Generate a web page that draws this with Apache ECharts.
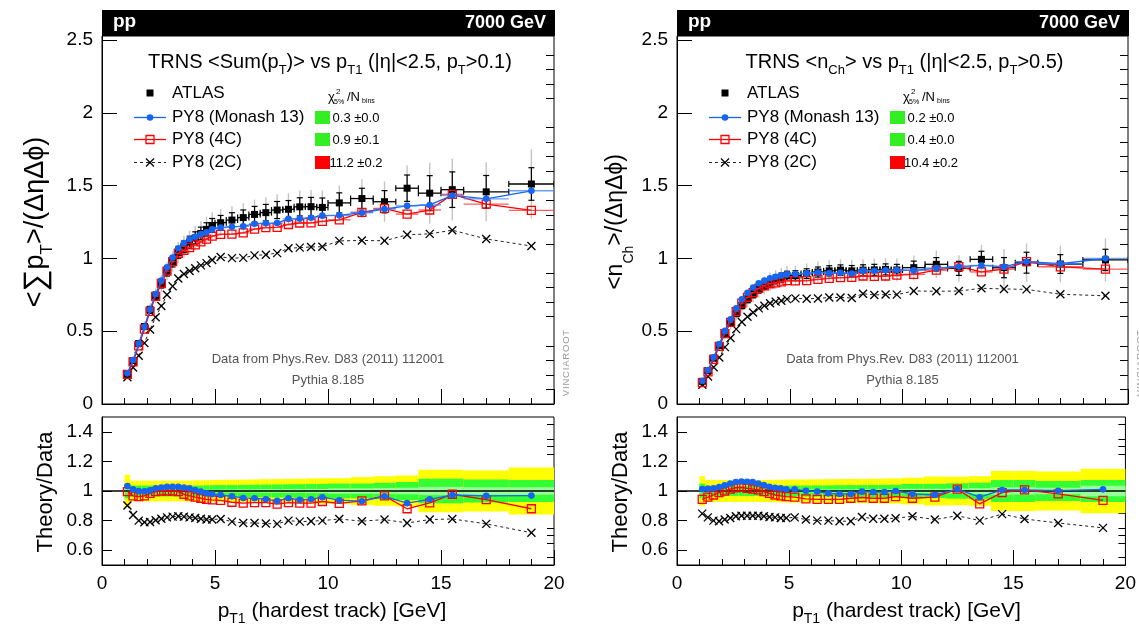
<!DOCTYPE html>
<html><head><meta charset="utf-8">
<script src="https://cdn.jsdelivr.net/npm/echarts@6/dist/echarts.min.js"></script>
<style>html,body{margin:0;padding:0;background:#fff}#c{width:1139px;height:634px}</style>
</head><body><div id="c"></div>
<script>
// ---------------- DATA ----------------
const binEdges = [1,1.25,1.5,1.75,2,2.25,2.5,2.75,3,3.25,3.5,3.75,4,4.25,4.5,4.75,5,5.5,6,6.5,7,7.5,8,8.5,9,9.5,10,11,12,13,14,15,16,18,20];

// Left: TRNS <Sum(pT)>
const sumPtData = [0.204,0.299,0.415,0.532,0.647,0.743,0.828,0.913,0.978,1.04,1.08,1.112,1.141,1.172,1.2,1.227,1.246,1.264,1.281,1.303,1.315,1.333,1.338,1.355,1.356,1.351,1.382,1.412,1.39,1.483,1.449,1.473,1.458,1.512];
const sumPtMonashRatio = [1.033,1.011,1.0,0.998,1.004,1.018,1.024,1.029,1.029,1.029,1.024,1.018,1.007,0.996,0.984,0.978,0.973,0.964,0.953,0.951,0.944,0.933,0.951,0.94,0.944,0.958,0.938,0.931,0.964,0.918,0.944,0.973,0.967,0.969];
const sumPt4CRatio = [0.996,0.967,0.962,0.967,0.984,0.996,1.0,1.0,1.0,0.996,0.978,0.967,0.958,0.951,0.944,0.94,0.936,0.924,0.918,0.922,0.922,0.911,0.922,0.918,0.918,0.929,0.916,0.933,0.967,0.88,0.92,0.978,0.942,0.88];
const sumPt2CRatio = [0.902,0.838,0.8,0.789,0.791,0.802,0.813,0.822,0.827,0.829,0.827,0.822,0.818,0.813,0.807,0.807,0.811,0.793,0.784,0.784,0.78,0.778,0.8,0.793,0.796,0.8,0.811,0.796,0.807,0.784,0.807,0.811,0.778,0.718];
const sumPtBandOuter = [0.11,0.07,0.07,0.07,0.07,0.07,0.07,0.07,0.07,0.07,0.07,0.071,0.072,0.072,0.073,0.074,0.075,0.076,0.077,0.078,0.08,0.081,0.082,0.083,0.085,0.086,0.087,0.094,0.1,0.105,0.144,0.144,0.139,0.158];
const sumPtBandMid = [0.05,0.037,0.037,0.037,0.037,0.037,0.037,0.037,0.037,0.037,0.037,0.037,0.037,0.037,0.038,0.039,0.04,0.04,0.041,0.042,0.043,0.044,0.045,0.046,0.047,0.048,0.05,0.05,0.055,0.061,0.083,0.083,0.077,0.074];
const sumPtBandInner = [0.012,0.008,0.008,0.008,0.008,0.008,0.008,0.008,0.008,0.008,0.008,0.008,0.008,0.009,0.009,0.009,0.01,0.01,0.011,0.011,0.012,0.012,0.013,0.013,0.014,0.014,0.018,0.018,0.02,0.022,0.028,0.028,0.026,0.025];
const sumPtChi2 = ['0.3 ±0.0','0.9 ±0.1','11.2 ±0.2'];

// Right: TRNS <nCh>
const nchData = [0.156,0.23,0.315,0.401,0.484,0.554,0.621,0.677,0.72,0.755,0.789,0.815,0.84,0.856,0.868,0.881,0.883,0.896,0.907,0.915,0.92,0.915,0.92,0.922,0.925,0.921,0.937,0.96,0.932,0.994,0.937,0.971,0.962,0.99];
const nchMonashRatio = [1.013,1.016,1.018,1.027,1.038,1.051,1.06,1.064,1.062,1.06,1.051,1.04,1.029,1.022,1.018,1.011,1.011,1.002,0.996,0.984,0.98,0.98,0.996,0.993,0.993,1.0,0.98,0.973,1.013,0.958,1.007,1.007,1.002,1.011];
const nch4CRatio = [0.944,0.958,0.973,0.989,1.0,1.013,1.022,1.024,1.018,1.013,1.007,0.996,0.984,0.973,0.967,0.962,0.958,0.947,0.944,0.944,0.944,0.951,0.956,0.951,0.951,0.962,0.951,0.958,1.013,0.913,0.989,1.007,0.98,0.936];
const nch2CRatio = [0.847,0.822,0.8,0.796,0.807,0.818,0.829,0.833,0.833,0.833,0.833,0.829,0.824,0.822,0.818,0.818,0.822,0.807,0.8,0.8,0.796,0.796,0.824,0.813,0.813,0.816,0.829,0.807,0.833,0.8,0.844,0.811,0.784,0.751];
const nchBandOuter = [0.1,0.074,0.074,0.074,0.074,0.074,0.074,0.074,0.074,0.074,0.074,0.075,0.075,0.076,0.076,0.077,0.078,0.078,0.079,0.08,0.081,0.082,0.082,0.083,0.084,0.085,0.09,0.098,0.097,0.1,0.136,0.136,0.131,0.15];
const nchBandMid = [0.05,0.033,0.033,0.033,0.033,0.033,0.033,0.033,0.034,0.034,0.034,0.035,0.035,0.035,0.036,0.036,0.037,0.037,0.038,0.038,0.039,0.04,0.04,0.041,0.041,0.042,0.048,0.048,0.052,0.056,0.074,0.074,0.067,0.074];
const nchBandInner = [0.012,0.008,0.008,0.008,0.008,0.008,0.008,0.008,0.008,0.008,0.008,0.008,0.008,0.009,0.009,0.009,0.01,0.01,0.01,0.011,0.011,0.011,0.012,0.012,0.013,0.013,0.015,0.015,0.017,0.02,0.025,0.025,0.022,0.035];
const nchChi2 = ['0.2 ±0.0','0.4 ±0.0','10.4 ±0.2'];

// Axis ticks / labels
const xTickValues = [0,5,10,15,20];
const mainYTickValues = [0,0.5,1,1.5,2,2.5];
const mainYMinorValues = [0.1,0.2,0.3,0.4,0.6,0.7,0.8,0.9,1.1,1.2,1.3,1.4,1.6,1.7,1.8,1.9,2.1,2.2,2.3,2.4];
const ratioYTickValues = [0.6,0.8,1,1.2,1.4];
const ratioYMinorValues = [0.55,0.65,0.7,0.75,0.85,0.9,0.95,1.05,1.1,1.15,1.25,1.3,1.35,1.45];
const legendLabels = ['ATLAS','PY8 (Monash 13)','PY8 (4C)','PY8 (2C)'];

// ---------------- STYLE / LAYOUT ----------------
const FF = 'Liberation Sans, Arial, Helvetica, sans-serif';
const BLUE = '#1565f0', RED = '#ff0000';
const panels = [
  {ox:102, w:452, data:sumPtData, mon:sumPtMonashRatio, c4:sumPt4CRatio, c2:sumPt2CRatio,
   bo:sumPtBandOuter, bm:sumPtBandMid, bi:sumPtBandInner, chi:sumPtChi2,
   title:'TRNS <Sum(p{s|T})> vs p{s|T1} (|η|<2.5, p{s|T}>0.1)',
   ytitle:'<{b|∑}p{s|T}>/(ΔηΔϕ)', ytitleX:36, ytitleSize:27, ratioTitleX:46},
  {ox:677, w:451, data:nchData, mon:nchMonashRatio, c4:nch4CRatio, c2:nch2CRatio,
   bo:nchBandOuter, bm:nchBandMid, bi:nchBandInner, chi:nchChi2,
   title:'TRNS <n{s|Ch}> vs p{s|T1} (|η|<2.5, p{s|T}>0.5)',
   ytitle:'<n{s|Ch}>/(ΔηΔϕ)', ytitleX:616, ytitleSize:23, ratioTitleX:621}
];
const MAIN_TOP = 36, MAIN_H = 368, RAT_TOP = 417, RAT_H = 148;
const MAIN_MAX = 2.529;

const centers = [];
for (let i = 0; i < binEdges.length - 1; i++) centers.push((binEdges[i] + binEdges[i+1]) / 2);

function ln(x1,y1,x2,y2,c,w,dash){ return {type:'line', shape:{x1,y1,x2,y2}, style:{stroke:c, lineWidth:w, lineDash:dash||null}}; }
function marker(kind,cx,cy,color){
  if (kind==='circle') return {type:'circle', shape:{cx,cy,r:3.3}, style:{fill:color}};
  if (kind==='square') return {type:'rect', shape:{x:cx-4,y:cy-4,width:8,height:8}, style:{fill:'rgba(255,255,255,0)', stroke:color, lineWidth:1.3}};
  if (kind==='data') return {type:'rect', shape:{x:cx-3.5,y:cy-3.5,width:7,height:7}, style:{fill:'#000'}};
  return {type:'group', children:[ln(cx-4,cy-4,cx+4,cy+4,color,1.3), ln(cx-4,cy+4,cx+4,cy-4,color,1.3)]};
}
function renderData(params, api){
  const x=api.value(0), y=api.value(1), lo=api.value(2), hi=api.value(3), st=api.value(4), tot=api.value(5);
  const p=api.coord([x,y]), a=api.coord([lo,y]), b=api.coord([hi,y]);
  const t1=api.coord([x,y+tot]), t2=api.coord([x,y-tot]);
  const s1=api.coord([x,y+st]), s2=api.coord([x,y-st]);
  return {type:'group', children:[
    ln(t1[0],t1[1],t2[0],t2[1],'#c4c4c4',1.4),
    ln(s1[0],s1[1],s2[0],s2[1],'#000',1.2),
    ln(s1[0]-3,s1[1],s1[0]+3,s1[1],'#000',1.2),
    ln(s2[0]-3,s2[1],s2[0]+3,s2[1],'#000',1.2),
    ln(a[0],p[1],b[0],p[1],'#000',1.3),
    ln(a[0],p[1]-3,a[0],p[1]+3,'#000',1.2),
    ln(b[0],p[1]-3,b[0],p[1]+3,'#000',1.2),
    marker('data',p[0],p[1])
  ]};
}
function mcRenderer(kind,color,barColor){
  return function(params, api){
    const x=api.value(0), y=api.value(1), lo=api.value(2), hi=api.value(3);
    const p=api.coord([x,y]), a=api.coord([lo,y]), b=api.coord([hi,y]);
    const ch=[];
    if (barColor) ch.push(ln(a[0],p[1],b[0],p[1],barColor,1.4));
    ch.push(marker(kind,p[0],p[1],color));
    return {type:'group', children:ch};
  };
}
function renderBand(params, api){
  const lo=api.value(0), hi=api.value(1), o=api.value(2), m=api.value(3), i=api.value(4);
  const r=(w,c)=>{ const a=api.coord([lo,1+w]), b=api.coord([hi,1-w]);
    return {type:'rect', shape:{x:a[0],y:a[1],width:b[0]-a[0],height:b[1]-a[1]}, style:{fill:c}}; };
  return {type:'group', children:[r(o,'#ffff00'), r(m,'#33ff33'), r(i,'#99ff99')]};
}

const grid=[], xAxis=[], yAxis=[], series=[], graphic=[];
const axisLine = {show:true, lineStyle:{color:'#000', width:1}};

panels.forEach((P, k) => {
  const gi = k*2;
  const yi = k*4;
  grid.push({left:P.ox, top:MAIN_TOP, width:P.w, height:MAIN_H, show:true, borderColor:'#000', borderWidth:1, backgroundColor:'rgba(0,0,0,0)'});
  grid.push({left:P.ox, top:RAT_TOP, width:P.w, height:RAT_H, show:true, borderColor:'#000', borderWidth:1, backgroundColor:'rgba(0,0,0,0)'});
  [0,1].forEach(j => {
    xAxis.push({type:'value', gridIndex:gi+j, min:0, max:20, interval:5,
      axisLine, splitLine:{show:false},
      axisTick:{show:true, inside:true, length:15, lineStyle:{color:'#000'}},
      minorTick:{show:true, splitNumber:5, length:6, lineStyle:{color:'#000'}},
      axisLabel:{show:j===1, color:'#000', fontSize:19, fontFamily:FF, margin:9}});
  });
  const yBase = (g, min, max, labels, ticks, tlen, showLab) => ({type:'value', gridIndex:g, min, max,
      axisLine:{show:showLab, lineStyle:{color:'#000'}}, splitLine:{show:false},
      axisTick:{show:true, inside:true, length:tlen, customValues:ticks, lineStyle:{color:'#000'}},
      axisLabel:{show:showLab, customValues:labels, color:'#000', fontSize:19, fontFamily:FF, margin:9}});
  yAxis.push(yBase(gi, 0, MAIN_MAX, mainYTickValues, mainYTickValues, 15, true));
  yAxis.push(yBase(gi, 0, MAIN_MAX, [], mainYMinorValues, 8, false));
  yAxis.push(yBase(gi+1, 0.5, 1.5, ratioYTickValues, ratioYTickValues, 10, true));
  yAxis.push(yBase(gi+1, 0.5, 1.5, [], ratioYMinorValues, 7, false));

  // ---- ratio panel ----
  const bandRows = centers.map((c,i)=>[binEdges[i], binEdges[i+1], P.bo[i], P.bm[i], P.bi[i]]);
  series.push({type:'custom', xAxisIndex:gi+1, yAxisIndex:yi+2, renderItem:renderBand, data:bandRows, encode:{x:[0,1], y:2}, clip:true, silent:true, z:1});
  series.push({type:'line', xAxisIndex:gi+1, yAxisIndex:yi+2, data:[[0,1],[20,1]], symbol:'none', lineStyle:{color:'#000', width:1.3}, z:2, silent:true});

  const models = [
    {r:P.c2, kind:'x', color:'#000', bar:null, lineColor:'#222', dash:[3,3], lw:1},
    {r:P.c4, kind:'square', color:RED, bar:'rgba(255,40,40,0.75)', lineColor:RED, dash:null, lw:1.3},
    {r:P.mon, kind:'circle', color:BLUE, bar:'rgba(60,130,250,0.75)', lineColor:BLUE, dash:null, lw:1.3}
  ];
  models.forEach((M, mi) => {
    const ratioPts = centers.map((c,i)=>[c, M.r[i], binEdges[i], binEdges[i+1]]);
    series.push({type:'line', xAxisIndex:gi+1, yAxisIndex:yi+2, data:ratioPts.map(d=>[d[0],d[1]]), symbol:'none',
      lineStyle:{color:M.lineColor, width:M.lw, type:M.dash||'solid'}, z:3+mi*2, silent:true});
    series.push({type:'custom', xAxisIndex:gi+1, yAxisIndex:yi+2, renderItem:mcRenderer(M.kind,M.color,null), data:ratioPts, encode:{x:0,y:1}, z:4+mi*2, silent:true, clip:true});
  });

  // ---- main panel ----
  const dataRows = centers.map((c,i)=>[c, P.data[i], binEdges[i], binEdges[i+1], P.data[i]*P.bm[i], P.data[i]*P.bo[i]]);
  series.push({type:'custom', xAxisIndex:gi, yAxisIndex:yi, renderItem:renderData, data:dataRows, encode:{x:0,y:1}, z:2, silent:true, clip:true});
  models.forEach((M, mi) => {
    const pts = centers.map((c,i)=>[c, P.data[i]*M.r[i], binEdges[i], binEdges[i+1]]);
    series.push({type:'line', xAxisIndex:gi, yAxisIndex:yi, data:pts.map(d=>[d[0],d[1]]), symbol:'none',
      lineStyle:{color:M.lineColor, width:M.lw, type:M.dash||'solid'}, z:3+mi*2, silent:true});
    series.push({type:'custom', xAxisIndex:gi, yAxisIndex:yi, renderItem:mcRenderer(M.kind,M.color,M.bar), data:pts, encode:{x:0,y:1}, z:4+mi*2, silent:true, clip:true});
  });

  // ---- graphics ----
  const ox = P.ox;
  const T = (x,y,text,fs,extra) => Object.assign({type:'text', x, y, z:100,
    style:Object.assign({text, fontSize:fs, fontFamily:FF, fill:'#000', textAlign:'left', textVerticalAlign:'middle'}, extra||{})});
  graphic.push({type:'rect', z:100, shape:{x:ox, y:10, width:P.w+1, height:26}, style:{fill:'#000'}});
  graphic.push(T(ox+11, 22, 'pp', 19, {fill:'#fff', fontWeight:'bold'}));
  graphic.push(T(ox+P.w-8, 23, '7000 GeV', 18, {fill:'#fff', fontWeight:'bold', textAlign:'right'}));
  graphic.push(T(ox+P.w/2+2, 62, P.title, 20, {textAlign:'center', lineHeight:30,
    rich:{s:{fontSize:13, fontFamily:FF, fill:'#000', lineHeight:10, verticalAlign:'bottom'}}}));
  const rows = [93, 117.5, 139.5, 162.5];
  graphic.push(Object.assign(marker('data', ox+48, rows[0]), {z:100}));
  graphic.push(Object.assign(ln(ox+32, rows[1], ox+64, rows[1], BLUE, 1.3), {z:100}));
  graphic.push(Object.assign(marker('circle', ox+48, rows[1], BLUE), {z:101}));
  graphic.push(Object.assign(ln(ox+32, rows[2], ox+64, rows[2], RED, 1.3), {z:100}));
  graphic.push(Object.assign(marker('square', ox+48, rows[2], RED), {z:101}));
  graphic.push(Object.assign(ln(ox+32, rows[3], ox+64, rows[3], '#222', 1, [3,3]), {z:100}));
  graphic.push(Object.assign(marker('x', ox+48, rows[3], '#000'), {z:101}));
  legendLabels.forEach((t,i)=>graphic.push(T(ox+70, rows[i], t, 17)));
  graphic.push(T(ox+226, 97, 'χ', 13));
  graphic.push(T(ox+234, 92, '2', 8));
  graphic.push(T(ox+232, 102, '5%', 7));
  graphic.push(T(ox+245, 97, '/N', 13));
  graphic.push(T(ox+260, 101, 'bins', 7));
  const chiColors = ['#33ee22','#33ee22','#ff0000'];
  [1,2,3].forEach((ri,i)=>{
    graphic.push({type:'rect', z:100, shape:{x:ox+213, y:rows[ri]-6.5, width:15, height:13}, style:{fill:chiColors[i]}});
    graphic.push(T(ox+254, rows[ri]+1, P.chi[i], 13, {textAlign:'center'}));
  });
  graphic.push(T(ox+P.w/2, 359, 'Data from Phys.Rev. D83 (2011) 112001', 13, {fill:'#555', textAlign:'center'}));
  graphic.push(T(ox+P.w/2, 380, 'Pythia 8.185', 13, {fill:'#555', textAlign:'center'}));
  graphic.push(Object.assign(T(ox+P.w+12, 363, 'V\u200AI\u200AN\u200AC\u200AI\u200AA\u200AR\u200AO\u200AO\u200AT', 9.5, {fill:'#999', textAlign:'center'}), {rotation:Math.PI/2}));
  graphic.push(Object.assign(T(P.ytitleX, 222, P.ytitle, P.ytitleSize, {textAlign:'center', lineHeight:40,
    rich:{s:{fontSize:Math.round(P.ytitleSize*0.62), fontFamily:FF, fill:'#000', lineHeight:14, verticalAlign:'bottom'},
          b:{fontSize:Math.round(P.ytitleSize*1.15), fontFamily:FF, fill:'#000', lineHeight:40}}}), {rotation:Math.PI/2}));
  graphic.push(Object.assign(T(P.ratioTitleX, 492, 'Theory/Data', 22, {textAlign:'center'}), {rotation:Math.PI/2}));
  graphic.push(T(ox+P.w/2+4, 611, 'p{s|T1} (hardest track) [GeV]', 21, {textAlign:'center', lineHeight:30,
    rich:{s:{fontSize:14, fontFamily:FF, fill:'#000', lineHeight:10, verticalAlign:'bottom'}}}));
});

const chart = echarts.init(document.getElementById('c'), null, {renderer:'canvas'});
chart.setOption({animation:false, backgroundColor:'#fff', grid, xAxis, yAxis, series, graphic});
</script></body></html>
